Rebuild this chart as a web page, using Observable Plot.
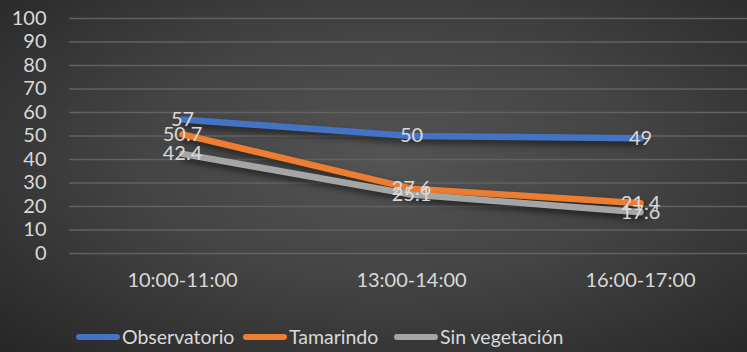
<!DOCTYPE html>
<html>
<head>
<meta charset="utf-8">
<script src="https://cdn.jsdelivr.net/npm/d3@7"></script>
<script src="https://cdn.jsdelivr.net/npm/@observablehq/plot@0.6"></script>
<style>
  html, body { margin: 0; padding: 0; }
  body {
    width: 747px; height: 352px; overflow: hidden; position: relative;
    background: radial-gradient(ellipse at 52% 45%, #545454 0%, #444444 45%, #262626 100%);
    font-family: Lato, "Open Sans", sans-serif;
  }
  #chart svg { display: block; }
  #chart svg [aria-label="line"] path { filter: drop-shadow(2px 4px 3px rgba(0,0,0,0.55)); }
  #legend { position: absolute; left: 0; top: 325px; width: 747px; height: 24px;
    color: #d9d9d9; font-size: 19.5px; line-height: 24px; }
  .item { position: absolute; top: 0; display: flex; align-items: center; }
  .sw { width: 44px; height: 6px; border-radius: 3px; margin-right: 2px; }
</style>
</head>
<body>
<div id="chart"></div>
<div id="legend"></div>
<script>
const categories = ["10:00-11:00", "13:00-14:00", "16:00-17:00"];
const seriesNames = ["Observatorio", "Tamarindo", "Sin vegetación"];
const observatorio = [57, 50, 49];
const tamarindo = [50.7, 27.6, 21.4];
const sinVegetacion = [42.4, 25.1, 17.6];
const seriesColors = ["#4472C4", "#ED7D31", "#A5A5A5"];
const yTicks = [0, 10, 20, 30, 40, 50, 60, 70, 80, 90, 100];

const allValues = [observatorio, tamarindo, sinVegetacion];
const data = [];
seriesNames.forEach((s, i) => {
  categories.forEach((c, j) => data.push({series: s, cat: c, value: allValues[i][j]}));
});

const chart = Plot.plot({
  width: 747,
  height: 300,
  marginLeft: 69,
  marginRight: 0,
  marginTop: 18,
  marginBottom: 47,
  style: {background: "transparent", fontFamily: "Lato, 'Open Sans', sans-serif", fontSize: "20px", color: "#d9d9d9"},
  x: {type: "point", domain: categories, range: [182, 640], padding: 0, label: null, tickSize: 0, tickPadding: 19},
  y: {domain: [0, 100], ticks: yTicks, label: null, tickSize: 0, tickPadding: 23},
  color: {domain: seriesNames, range: seriesColors},
  marks: [
    Plot.ruleY(yTicks, {stroke: "#626262", strokeWidth: 1.5}),
    Plot.lineY(data, {x: "cat", y: "value", z: "series", stroke: "series", strokeWidth: 6.5, strokeLinecap: "round", strokeLinejoin: "round"}),
    Plot.text(data, {x: "cat", y: "value", text: d => String(d.value), fill: "#d9d9d9", fontSize: 20})
  ]
});
document.getElementById("chart").appendChild(chart);

const legendLeft = [76, 243, 394];
const legend = document.getElementById("legend");
seriesNames.forEach((s, i) => {
  const item = document.createElement("div");
  item.className = "item";
  item.style.left = legendLeft[i] + "px";
  const sw = document.createElement("div");
  sw.className = "sw";
  sw.style.background = seriesColors[i];
  const t = document.createElement("span");
  t.textContent = s;
  item.appendChild(sw);
  item.appendChild(t);
  legend.appendChild(item);
});
</script>
</body>
</html>
